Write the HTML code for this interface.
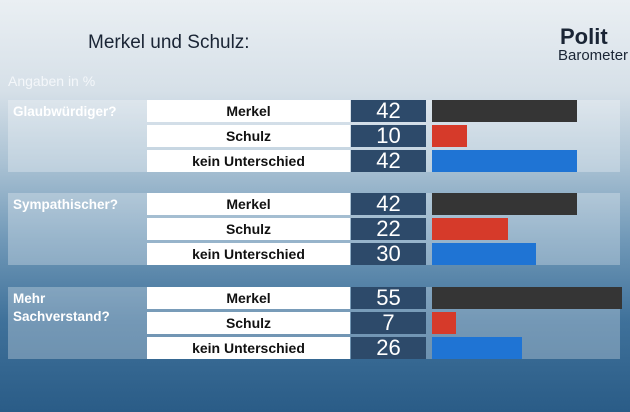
<!DOCTYPE html>
<html><head><meta charset="utf-8"><style>
body{margin:0;width:630px;height:412px;overflow:hidden;font-family:"Liberation Sans",sans-serif;}
#bg{position:absolute;left:0;top:0;width:630px;height:412px;background:linear-gradient(180deg,#eaeff3 0%,#d6e0e8 22%,#a9c1d3 40%,#7199b8 58%,#3f719a 78%,#2a5c87 100%);}
.t{position:absolute;white-space:nowrap}
.grp{position:absolute;left:8px;width:612px;background:rgba(255,255,255,0.28)}
.lab{position:absolute;left:147px;width:203px;height:22px;background:#fff;color:#111;font-weight:bold;font-size:14px;text-align:center;line-height:22px}
.num{position:absolute;left:351px;width:75px;height:22px;background:#2d4a6a;color:#fff;font-size:22px;text-align:center;line-height:22px}
.gl{position:absolute;left:13px;color:#fff;font-weight:bold;font-size:13.5px;line-height:18px}
</style></head><body>
<div id="bg"></div>
<div class="t" style="left:88px;top:32px;font-size:19px;color:#1a2535">Merkel und Schulz:</div>
<div class="t" style="left:560px;top:24px;font-size:22px;font-weight:bold;color:#1a2535">Polit</div>
<div class="t" style="left:558px;top:47px;font-size:15px;color:#1a2535">Barometer</div>
<div class="t" style="left:8px;top:73px;font-size:14px;color:#f4f7fa">Angaben in %</div>
<div id="chart"></div>
<script>
const groups=["Glaubwürdiger?","Sympathischer?","Mehr<br>Sachverstand?"];
const categories=["Merkel","Schulz","kein Unterschied"];
const values=[[42,10,42],[42,22,30],[55,7,26]];
const colors=["#353535","#d63a2a","#1f74d4"];
const groupTops=[100,193,287];
const x=v=>432+v*3.45;
const c=document.getElementById('chart');
groups.forEach((g,gi)=>{
 const top=groupTops[gi];
 const box=document.createElement('div');box.className='grp';
 
 
 box.style.top=top+'px';box.style.height='72px';c.appendChild(box);
 const gl=document.createElement('div');gl.className='gl';gl.innerHTML=g;
 
 
 gl.style.top=(top+3)+'px';c.appendChild(gl);
 categories.forEach((cat,ci)=>{
  const y=top+ci*25;
  const l=document.createElement('div');l.className='lab';l.textContent=cat;
  
  
  l.style.top=y+'px';c.appendChild(l);
  const n=document.createElement('div');n.className='num';n.textContent=values[gi][ci];
  
  
  n.style.top=y+'px';c.appendChild(n);
  const b=document.createElement('div');
  
  
  b.style.cssText=`position:absolute;left:432px;top:${y}px;height:22px;width:${x(values[gi][ci])-432}px;background:${colors[ci]}`;
  c.appendChild(b);
 });
});
</script>
</body></html>
